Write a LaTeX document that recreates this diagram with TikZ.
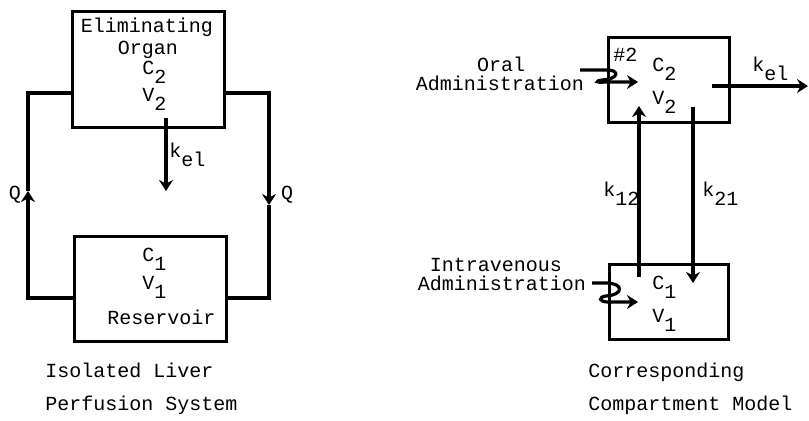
\documentclass[tikz,border=0pt]{standalone}
\usepackage{fontspec}
\newfontfamily\tyfont{Liberation Mono}
\usetikzlibrary{arrows.meta,positioning}
\tikzset{
  bx/.style={draw,line width=1.5pt,inner sep=0pt},
  tx/.style={font=\tyfont\fontsize{10}{10}\selectfont,inner sep=0pt,anchor=base west},
  tc/.style={tx,anchor=base},
  ln/.style={line width=1.6pt},
  ar/.style={-{Stealth[length=5.5pt,width=7pt,inset=1.8pt]},line width=1.6pt,line join=miter}
}
\newcommand{\dn}[1]{\raisebox{-4.5pt}{#1}}

\begin{document}
\begin{tikzpicture}[x=0.5pt,y=-0.5pt]
\useasboundingbox (0,0) rectangle (809,421);
% perfusion system
\node[bx,minimum width=76pt,minimum height=58pt] (orgbox) at (148,70) {};
\node[bx,minimum width=76pt,minimum height=52.5pt] (resbox) at (150,289.5) {};
\node[tc] (elim) at (147,33) {Eliminating};
\node[tc] (organ) at (148,55) {Organ};
\node[tx] (c2l) at (142,75) {C\dn{2}};
\node[tx] (v2l) at (142,102) {V\dn{2}};
\node[tx] (c1l) at (142,262) {C\dn{1}};
\node[tx] (v1l) at (142,290) {V\dn{1}};
\node[tx] (resv) at (107,325) {Reservoir};
\node[tx] (kell) at (169,158) {k\dn{el}};
\node[tc] (ql) at (15,200) {Q};
\node[tc] (qr) at (287,200) {Q};
\coordinate (lup) at (28,93);
\coordinate (ldn) at (28,298);
\coordinate (lmid) at (28,191);
\coordinate (rup) at (269,93);
\coordinate (rdn) at (269,298);
\coordinate (rmid) at (269,205);
\coordinate (kla) at (166,118);
\coordinate (klb) at (166,191);
\draw[ar] (resbox.west |- ldn) -- (ldn) -- (lmid);
\draw[ln] (lmid) -- (lup) -- (orgbox.west |- lup);
\draw[ar] (orgbox.east |- rup) -- (rup) -- (rmid);
\draw[ln] (rmid) -- (rdn) -- (resbox.east |- rdn);
\draw[ar] (kla) -- (klb);
\node[tx] (cap1) at (45,378) {Isolated Liver};
\node[tx] (cap2) at (45,411) {Perfusion System};
% compartment model
\node[bx,minimum width=60.5pt,minimum height=42.5pt] (cmp2) at (668.5,80.5) {};
\node[bx,minimum width=59.5pt,minimum height=37.5pt] (cmp1) at (668.5,302.5) {};
\node[tx] (hash) at (613,62) {\#2};
\node[tx] (c2r) at (652,72) {C\dn{2}};
\node[tx] (v2r) at (652,105) {V\dn{2}};
\node[tx] (c1r) at (652,290) {C\dn{1}};
\node[tx] (v1r) at (652,323) {V\dn{1}};
\node[tx] (kelr) at (752,72) {k\dn{el}};
\node[tx] (k12) at (603,197) {k\dn{12}};
\node[tx] (k21) at (702,197) {k\dn{21}};
\node[tc] (oral) at (501,72) {Oral};
\node[tc] (oadm) at (500,91) {Administration};
\node[tc] (iv) at (496,272) {Intravenous};
\node[tc] (iadm) at (502,291) {Administration};
\coordinate (kra) at (712,86);
\coordinate (krb) at (808,86);
\coordinate (k12a) at (639,277);
\coordinate (k12b) at (639,106);
\coordinate (k21a) at (693,107);
\coordinate (k21b) at (693,283);
\coordinate (ors) at (580,70);
\coordinate (ore) at (638,82);
\coordinate (ivs) at (592,283);
\coordinate (ive) at (638,302);
\draw[ar] (kra) -- (krb);
\draw[ar] (k12a) -- (k12b);
\draw[ar] (k21a) -- (k21b);
\draw[ar] (ors) -- (607,70) .. controls (620,70) and (619,79) .. (602,80)
  .. controls (595,81) and (596,83) .. (605,82) -- (ore);
\draw[ar] (ivs) -- (606,283) .. controls (624,283) and (624,295) .. (606,296)
  .. controls (598,297) and (599,302) .. (608,302) -- (ive);
\node[tx] (cap3) at (588,378) {Corresponding};
\node[tx] (cap4) at (588,411) {Compartment Model};
\end{tikzpicture}
\end{document}
